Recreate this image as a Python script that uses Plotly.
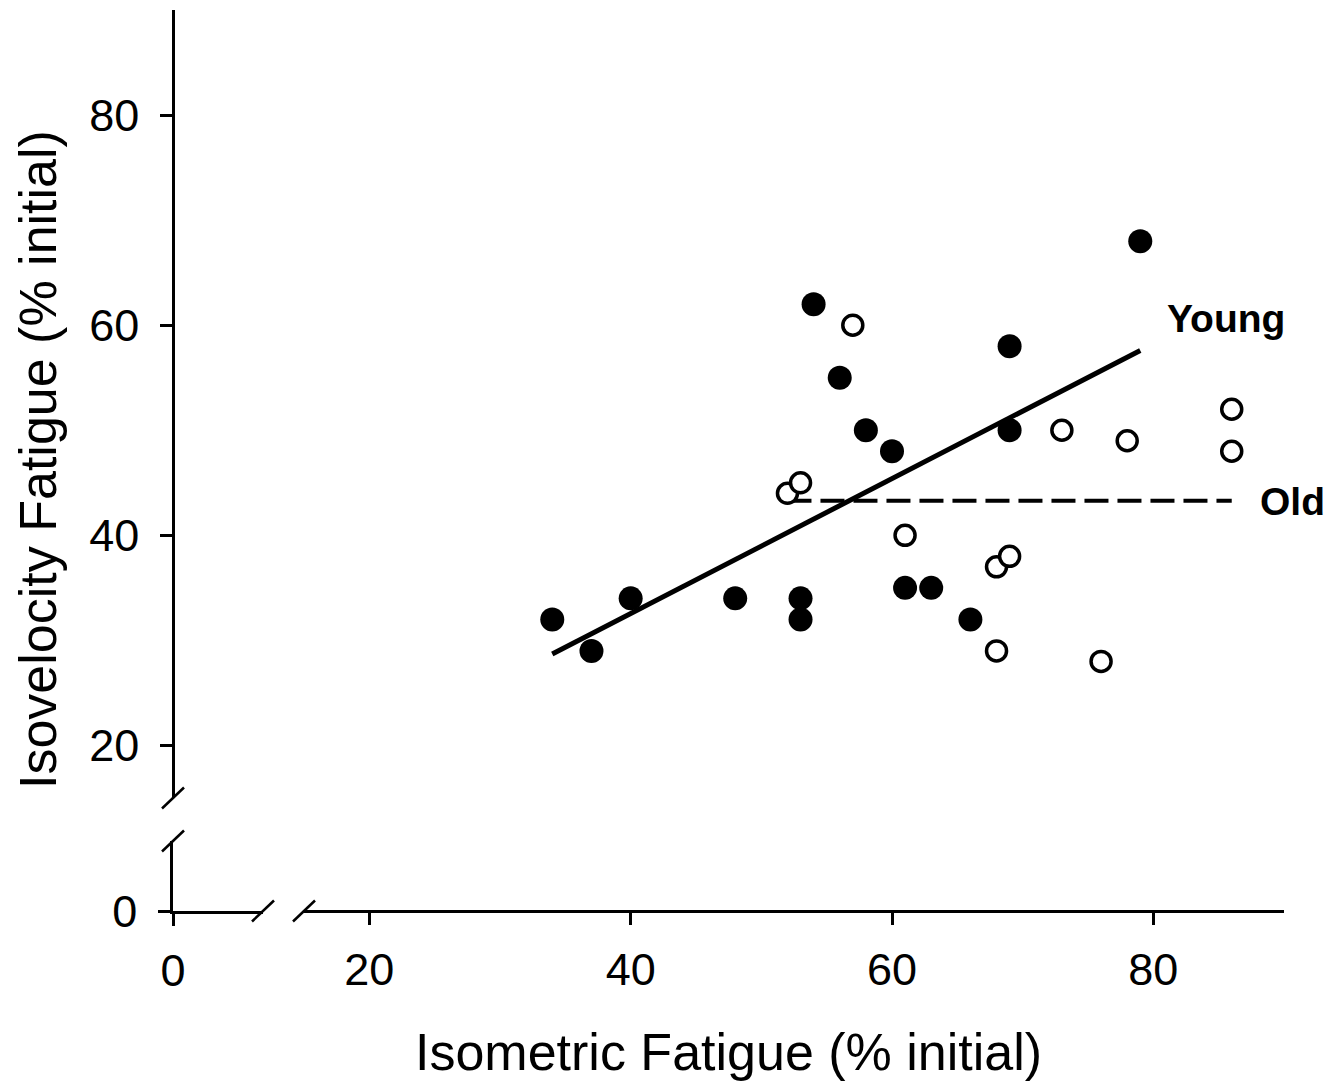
import plotly.graph_objects as go

# ---- data ----
young_x = [34, 37, 40, 48, 53, 53, 54, 56, 58, 60, 61, 63, 66, 69, 69, 79]
young_y = [32, 29, 34, 34, 34, 32, 62, 55, 50, 48, 35, 35, 32, 58, 50, 68]
old_x = [52, 53, 57, 61, 68, 69, 68, 73, 76, 78, 86, 86]
old_y = [44, 45, 60, 40, 37, 38, 29, 50, 28, 49, 52, 48]
young_fit_x = [34, 79]
young_fit_y = [28.7, 57.6]
old_fit_x = [52, 86]
old_fit_y = [43.3, 43.3]
main_x_ticks = [20, 40, 60, 80]
main_y_ticks = [20, 40, 60, 80]
group_labels = ["Young", "Old"]
label_x = [80.9, 88.0]
label_y = [60.6, 43.2]

FONT = "Liberation Sans, Arial, sans-serif"

# ---- geometry (pixels; page body has an 8px margin) ----
W, H = 1332, 1075
ml, mr, mt, mb = 165, 56, 2, 172
pw = W - ml - mr
ph = H - mt - mb
x_main_start = (131) / pw          # break gap on x
x_left_end = (90) / pw
y_main_start = (113) / ph          # break gap on y
y_low_end = (70) / ph
xscale = 782.7 / 60.0  # px per unit
yscale = 632.5 / 60.0

fig = go.Figure()

fig.add_trace(go.Scatter(x=young_fit_x, y=young_fit_y, mode="lines",
                         line=dict(color="black", width=5),
                         xaxis="x", yaxis="y", showlegend=False))
fig.add_trace(go.Scatter(x=old_fit_x, y=old_fit_y, mode="lines",
                         line=dict(color="black", width=4, dash="24px,9px"),
                         xaxis="x", yaxis="y", showlegend=False))
fig.add_trace(go.Scatter(x=old_x, y=old_y, mode="markers",
                         marker=dict(symbol="circle", size=20, color="white",
                                     line=dict(color="black", width=3.5)),
                         xaxis="x", yaxis="y", showlegend=False))
fig.add_trace(go.Scatter(x=young_x, y=young_y, mode="markers",
                         marker=dict(symbol="circle", size=24, color="black",
                                     line=dict(width=0)),
                         xaxis="x", yaxis="y", showlegend=False))
# dummy trace for the small broken-axis segments
fig.add_trace(go.Scatter(x=[None], y=[None], mode="markers",
                         xaxis="x2", yaxis="y2", showlegend=False,
                         hoverinfo="skip"))

axis_common = dict(showline=True, linecolor="black", linewidth=2.5,
                   ticks="outside", ticklen=12, tickwidth=2.5, tickcolor="black",
                   showgrid=False, zeroline=False,
                   tickfont=dict(family=FONT, size=45, color="black"))

fig.update_layout(
    width=W, height=H,
    margin=dict(l=ml, r=mr, t=mt, b=mb),
    paper_bgcolor="white", plot_bgcolor="white",
    showlegend=False,
    xaxis=dict(domain=[x_main_start, 1], range=[15, 90], anchor="free", position=0,
               tickvals=main_x_ticks, ticklabelstandoff=6, **axis_common),
    yaxis=dict(domain=[y_main_start, 1], range=[15, 90], anchor="free", position=0,
               tickvals=main_y_ticks, ticklabelstandoff=12, **axis_common),
    xaxis2=dict(domain=[0, x_left_end], range=[0, 90 / xscale], anchor="y2",
                tickvals=[0], ticklabelstandoff=6, **axis_common),
    yaxis2=dict(domain=[0, y_low_end], range=[0, 70 / yscale], anchor="x2",
                tickvals=[0], ticklabelstandoff=12, **axis_common),
)

# break marks
def slash(xanchor, yanchor):
    return dict(type="line", xref="paper", yref="paper",
                xsizemode="pixel", ysizemode="pixel",
                xanchor=xanchor, yanchor=yanchor,
                x0=-11, x1=11, y0=-10.5, y1=10.5,
                line=dict(color="black", width=2.5))

fig.update_layout(shapes=[
    slash(0, y_main_start),
    slash(0, y_low_end),
    slash(x_left_end, 0),
    slash(x_main_start, 0),
])

annotations = []
for t, lx, ly in zip(group_labels, label_x, label_y):
    annotations.append(dict(text="<b>%s</b>" % t, x=lx, y=ly, xref="x", yref="y",
                            xanchor="left", yanchor="middle", showarrow=False,
                            font=dict(family=FONT, size=39, color="black")))
annotations.append(dict(text="Isometric Fatigue (% initial)", x=0.5, y=0,
                        xref="paper", yref="paper", xanchor="center", yanchor="middle",
                        yshift=-141, showarrow=False,
                        font=dict(family=FONT, size=52, color="black")))
annotations.append(dict(text="Isovelocity Fatigue (% initial)", x=0, y=(451) / ph,
                        xref="paper", yref="paper", xanchor="center", yanchor="middle",
                        xshift=-135, textangle=-90, showarrow=False,
                        font=dict(family=FONT, size=52, color="black")))
fig.update_layout(annotations=annotations)

fig.write_html("out.html")
